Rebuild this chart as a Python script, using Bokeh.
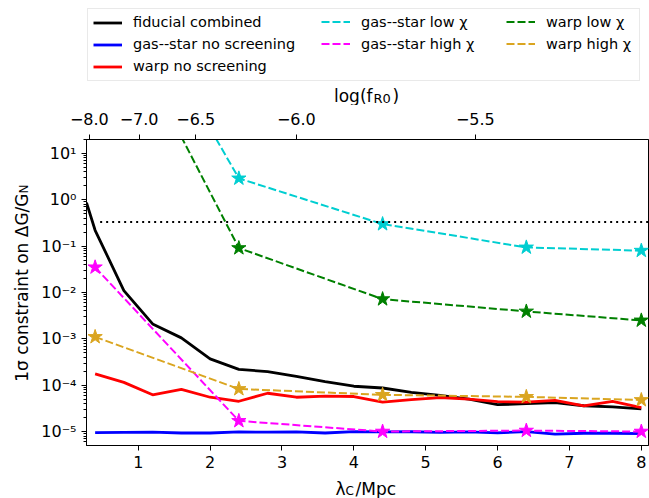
from math import pi
from bokeh.plotting import figure
from bokeh.layouts import column, row
from bokeh.models import (Range1d, LinearAxis, FixedTicker, Legend, LegendItem,
                          Label, CustomJSTickFormatter)
from bokeh.embed import file_html
from bokeh.resources import INLINE

# ---------------- data ----------------
lam_fid = [0.28, 0.4, 0.8, 1.2, 1.6, 2.0, 2.4, 2.8, 3.2, 3.6, 4.0,
           4.4, 4.8, 5.2, 5.6, 6.0, 6.4, 6.8, 7.2, 7.6, 8.0]
fiducial = [0.87, 0.22, 0.011, 2.1e-3, 1.05e-3, 3.7e-4, 2.2e-4, 1.96e-4, 1.55e-4, 1.2e-4, 9.5e-5,
            8.7e-5, 7.0e-5, 6.0e-5, 5.0e-5, 3.8e-5, 4.0e-5, 4.2e-5, 3.6e-5, 3.4e-5, 3.1e-5]

lam_ns = [0.4, 0.8, 1.2, 1.6, 2.0, 2.4, 2.8, 3.2, 3.6, 4.0,
          4.4, 4.8, 5.2, 5.6, 6.0, 6.4, 6.8, 7.2, 7.6, 8.0]
gas_noscr = [9.5e-6, 9.6e-6, 9.7e-6, 9.3e-6, 9.3e-6, 9.8e-6, 9.7e-6, 9.8e-6, 9.3e-6, 1.0e-5,
             9.8e-6, 9.9e-6, 9.6e-6, 9.8e-6, 9.4e-6, 1.0e-5, 8.8e-6, 9.2e-6, 9.2e-6, 9.0e-6]
warp_noscr = [1.75e-4, 1.15e-4, 6.2e-5, 8.1e-5, 5.5e-5, 4.5e-5, 6.7e-5, 5.5e-5, 5.8e-5, 5.7e-5,
              4.3e-5, 4.9e-5, 5.4e-5, 5.0e-5, 4.4e-5, 4.3e-5, 4.7e-5, 3.6e-5, 4.5e-5, 3.3e-5]

lam_star = [0.4, 2.4, 4.4, 6.4, 8.0]
gas_low = [7.0e5, 2.9, 0.30, 0.094, 0.080]
gas_high = [0.035, 1.7e-5, 1.0e-5, 1.05e-5, 1.0e-5]
warp_low = [9.0e4, 0.091, 0.0072, 0.0039, 0.0025]
warp_high = [1.1e-3, 8.3e-5, 6.2e-5, 5.6e-5, 4.8e-5]

threshold = 1.0 / 3.0
thr_lam = [0.47, 8.1]

x_ticks = [1, 2, 3, 4, 5, 6, 7, 8]
y_ticks = [1e-5, 1e-4, 1e-3, 1e-2, 1e-1, 1e0, 1e1]
y_labels = ["10\u207b\u2075", "10\u207b\u2074", "10\u207b\u00b3", "10\u207b\u00b2",
            "10\u207b\u00b9", "10\u2070", "10\u00b9"]
fr_ticks = [-8.0, -7.0, -6.5, -6.0, -5.5]
fr_labels = ["\u22128.0", "\u22127.0", "\u22126.5", "\u22126.0", "\u22125.5"]

# lambda_C = 32 sqrt(f_R0 / 1e-4) Mpc
lam_top = [32.0 * 10 ** ((f + 4.0) / 2.0) for f in fr_ticks]
y_minor = [m * 10.0 ** k for k in range(-6, 2) for m in range(2, 10)]

FONT = "DejaVu Sans"
CYAN = "darkturquoise"
MAGENTA = "#ff00ff"
GREEN = "green"
GOLD = "goldenrod"
DASH = "8 3"
SOLID_W = 2.8
DASH_W = 2

series = [
    ("fiducial combined", lam_fid, fiducial, "black", False),
    ("gas--star no screening", lam_ns, gas_noscr, "blue", False),
    ("warp no screening", lam_ns, warp_noscr, "red", False),
    ("gas--star low \u03c7", lam_star, gas_low, CYAN, True),
    ("gas--star high \u03c7", lam_star, gas_high, MAGENTA, True),
    ("warp low \u03c7", lam_star, warp_low, GREEN, True),
    ("warp high \u03c7", lam_star, warp_high, GOLD, True),
]

TOP_H, BOT_H, LEFT_W = 105, 24, 35
MAIN_H = 498 - TOP_H - BOT_H

# ---------------- main plot ----------------
p = figure(width=649 - LEFT_W, height=MAIN_H, x_range=Range1d(0.28, 8.1),
           y_range=Range1d(5e-6, 20), y_axis_type="log", output_backend="svg",
           toolbar_location=None, min_border_left=86 - LEFT_W, min_border_right=1,
           min_border_top=139 - TOP_H, min_border_bottom=29)
p.grid.visible = False
p.outline_line_color = "black"
p.outline_line_width = 1
p.background_fill_color = "white"
p.border_fill_color = "white"

for name, xs, ys, col, starred in series:
    if starred:
        p.line(xs, ys, line_color=col, line_width=DASH_W, line_dash=DASH)
        p.scatter(xs, ys, marker="star", size=15, fill_color=col, line_color=col)
    else:
        p.line(xs, ys, line_color=col, line_width=SOLID_W)

p.line(thr_lam, [threshold] * len(thr_lam), line_color="black", line_width=2, line_dash="2 4")

CODE = """
let best = 0; let d = Infinity;
for (let i = 0; i < tv.length; i++) {
  const dd = Math.abs(Math.log(tv[i]) - Math.log(tick));
  if (dd < d) { d = dd; best = i; }
}
return tl[best];
"""
xa = p.xaxis[0]
xa.ticker = FixedTicker(ticks=x_ticks)
ya = p.yaxis[0]
ya.ticker = FixedTicker(ticks=y_ticks, minor_ticks=y_minor)
ya.formatter = CustomJSTickFormatter(args=dict(tv=y_ticks, tl=y_labels), code=CODE)
top = LinearAxis(ticker=FixedTicker(ticks=lam_top),
                 formatter=CustomJSTickFormatter(args=dict(tv=lam_top, tl=fr_labels), code=CODE))
p.add_layout(top, "above")
for ax in [xa, ya, top]:
    ax.major_label_text_font = FONT
    ax.major_label_text_font_size = "16px"
    ax.major_label_text_color = "black"
    ax.axis_line_color = "black"
    ax.major_tick_line_color = "black"
    ax.minor_tick_line_color = "black"
    ax.major_tick_in = 0
    ax.major_tick_out = 5
    ax.minor_tick_in = 0
    ax.minor_tick_out = 3
    ax.major_label_standoff = 5
top.major_label_standoff = 10


# ---------------- helper figures for text outside the frame ----------------
def blank(w, h, rng=(0, 1)):
    f = figure(width=w, height=h, x_range=Range1d(*rng), y_range=Range1d(*rng),
               output_backend="svg", toolbar_location=None,
               x_axis_location=None, y_axis_location=None,
               min_border=0, min_border_left=0, min_border_right=0,
               min_border_top=0, min_border_bottom=0)
    f.outline_line_color = None
    f.grid.visible = False
    f.background_fill_color = "white"
    f.border_fill_color = "white"
    return f


def lab(f, text, x, y, size, angle=0.0, align="left"):
    f.add_layout(Label(x=x, y=y, x_units="canvas", y_units="canvas", text=text,
                       text_font=FONT, text_font_size=size, text_align=align,
                       text_baseline="alphabetic", angle=angle, text_color="black"))


# top strip: legend + top-axis label. The legend renderers hold the same data,
# but this strip's ranges lie far away from it, so only the legend samples show.
ft = blank(649, TOP_H, rng=(100, 101))
proxies = []
for name, xs, ys, col, starred in series:
    if starred:
        r = ft.line(xs, ys, line_color=col, line_width=DASH_W, line_dash=DASH)
    else:
        r = ft.line(xs, ys, line_color=col, line_width=SOLID_W)
    proxies.append(LegendItem(label=name, renderers=[r]))

common = dict(label_text_font=FONT, label_text_font_size="14.5px", label_text_color="black",
              glyph_width=29, glyph_height=17, label_height=17, label_standoff=11,
              padding=5, spacing=5, margin=0)
leg1 = Legend(items=proxies[0:3], location=(87, TOP_H - 80.5),
              border_line_color="#d4d4d4", border_line_width=1,
              background_fill_color="white", background_fill_alpha=1.0,
              label_width=501, **common)
leg2 = Legend(items=proxies[3:5], location=(321, TOP_H - 52),
              border_line_color=None, background_fill_alpha=0.0, **common)
leg3 = Legend(items=proxies[5:7], location=(506, TOP_H - 52),
              border_line_color=None, background_fill_alpha=0.0, **common)
for lg in (leg1, leg2, leg3):
    ft.add_layout(lg, "center")
lab(ft, "log(f", 372, 95, "17px", align="right")
lab(ft, "R0", 373, 98, "13px")
lab(ft, ")", 392, 95, "17px")

# left strip: y-axis label
fl = blank(LEFT_W, MAIN_H)
lab(fl, "1\u03c3 constraint on \u0394G/G", 21, 193 - TOP_H, "17px", angle=pi / 2, align="right")
lab(fl, "N", 23.5, 193 - TOP_H, "12px", angle=pi / 2, align="left")

# bottom strip: x-axis label
fb = blank(649, BOT_H)
lab(fb, "\u03bb", 335, 14, "17px")
lab(fb, "C", 345, 16.5, "12px")
lab(fb, "/Mpc", 355, 14, "17px")

layout = column(ft, row(fl, p), fb)
open("out.html", "w").write(file_html(layout, INLINE))
